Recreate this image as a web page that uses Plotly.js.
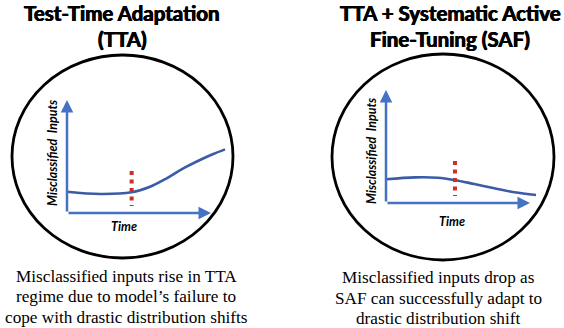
<!DOCTYPE html>
<html>
<head>
<meta charset="utf-8">
<script src="https://cdn.plot.ly/plotly-3.0.1.min.js"></script>
<style>
  html, body { margin: 0; padding: 0; background: #fff; }
  #plot { width: 564px; height: 328px; }
</style>
</head>
<body>
<div id="plot"></div>
<script>
// ─────────────────────────────────────────────────────
// Data (time vs misclassified inputs, arbitrary units 0..10)
// ─────────────────────────────────────────────────────
const ttaTime = [0, 2.08, 4.04, 5.19, 6.23, 7.27, 8.31, 9.14, 9.875];
const ttaMisclassified = [1.88, 1.68, 1.83, 2.32, 3.07, 3.95, 4.69, 5.22, 5.63];

const safTime = [0, 1.83, 3.23, 4.27, 5.52, 6.77, 8.02, 9.375];
const safMisclassified = [2.10, 2.27, 2.24, 2.04, 1.68, 1.30, 0.95, 0.71];

// moment of the distribution shift (red dotted marker) and its vertical span
const ttaShift = 4.04;
const safShift = 4.31;
const shiftSpan = [3.72, 0.62];

// axis arrow tips
const timeTip = 9;
const inputsTip = 10;

const panelTitles = [
    ['Test-Time Adaptation', '(TTA)'],
    ['TTA + Systematic Active', 'Fine-Tuning (SAF)'],
];
const panelCaptions = [
    ['Misclassified inputs rise in TTA', 'regime due to model\u2019s failure to', 'cope with drastic distribution shifts'],
    ['Misclassified inputs drop as', 'SAF can successfully adapt to', 'drastic distribution shift'],
];
const xLabel = 'Time';
const yLabel = 'Misclassified&nbsp; Inputs';

// ─────────────────────────────────────────────────────
// helpers: page pixels -> paper coords
// ─────────────────────────────────────────────────────
const W = 564, H = 328;
const px = v => v / W;
const py = v => 1 - v / H;

const AXIS_BLUE = '#4472C4';
const CURVE_BLUE = '#3A5BA6';
const SHIFT_RED = '#C9302C';

function curveTrace(x, y, ax) {
    return {
        x: x, y: y, xaxis: ax[0], yaxis: ax[1],
        mode: 'lines',
        line: { color: CURVE_BLUE, width: 2.6, shape: 'spline', smoothing: 1 },
        cliponaxis: false,
        hoverinfo: 'skip',
    };
}

function shiftTrace(t, ax) {
    return {
        x: [t, t], y: shiftSpan, xaxis: ax[0], yaxis: ax[1],
        mode: 'lines',
        line: { color: SHIFT_RED, width: 4, dash: '4px,4.5px' },
        cliponaxis: false,
        hoverinfo: 'skip',
    };
}

function axisArrows(xr, yr) {
    const base = {
        xref: xr, yref: yr, axref: xr, ayref: yr,
        text: '', showarrow: true, arrowhead: 2, arrowsize: 1,
        arrowwidth: 2.5, arrowcolor: AXIS_BLUE, standoff: 0, startstandoff: 0,
        ax: 0, ay: 0,
    };
    return [
        Object.assign({}, base, { x: timeTip, y: 0 }),
        Object.assign({}, base, { x: 0, y: inputsTip }),
    ];
}

function textAnn(text, x, y, font, extra) {
    return Object.assign({
        text: text, x: px(x), y: py(y), xref: 'paper', yref: 'paper',
        xanchor: 'center', yanchor: 'middle', showarrow: false,
        font: font,
    }, extra || {});
}

// titles in the reference are heavier than Lato Bold, thicken with a hairline shadow
const titleFont = { family: 'Lato, "Open Sans", sans-serif', size: 20.5, color: '#000', weight: 'bold',
                    shadow: '0.45px 0 0 #000, -0.45px 0 0 #000' };
const labelFont = { family: 'Lato, "Open Sans", sans-serif', size: 12.5, color: '#000', weight: 'bold', style: 'italic' };
const captionFont = { family: '"Liberation Serif", "DejaVu Serif", serif', size: 17.2, color: '#000' };

const traces = [
    curveTrace(ttaTime, ttaMisclassified, ['x', 'y']),
    shiftTrace(ttaShift, ['x', 'y']),
    curveTrace(safTime, safMisclassified, ['x2', 'y2']),
    shiftTrace(safShift, ['x2', 'y2']),
];

const annotations = [
    ...axisArrows('x', 'y'),
    ...axisArrows('x2', 'y2'),

    textAnn(panelTitles[0][0], 122, 13, titleFont),
    textAnn(panelTitles[0][1], 122.5, 39, titleFont),
    textAnn(panelTitles[1][0], 450, 13, titleFont),
    textAnn(panelTitles[1][1], 449.5, 39, titleFont),

    textAnn(xLabel, 124, 227, labelFont),
    textAnn(xLabel, 452, 221, labelFont),
    textAnn(yLabel, 52, 153, labelFont, { textangle: -90 }),
    textAnn(yLabel, 371, 151, labelFont, { textangle: -90 }),

    textAnn(panelCaptions[0][0], 126, 276, captionFont),
    textAnn(panelCaptions[0][1], 126, 296.5, captionFont),
    textAnn(panelCaptions[0][2], 126, 317, captionFont),
    textAnn(panelCaptions[1][0], 438, 277.5, captionFont),
    textAnn(panelCaptions[1][1], 438, 298, captionFont),
    textAnn(panelCaptions[1][2], 438, 318.5, captionFont),
];

const hidden = { visible: false, range: [0, 10], fixedrange: true };

const layout = {
    width: W, height: H,
    margin: { l: 0, r: 0, t: 0, b: 0 },
    paper_bgcolor: '#fff', plot_bgcolor: 'rgba(0,0,0,0)',
    showlegend: false,
    xaxis: Object.assign({}, hidden, { domain: [px(67), px(227)] }),
    yaxis: Object.assign({}, hidden, { domain: [py(213), py(100)] }),
    xaxis2: Object.assign({}, hidden, { domain: [px(386), px(546)], anchor: 'y2' }),
    yaxis2: Object.assign({}, hidden, { domain: [py(203), py(90)], anchor: 'x2' }),
    shapes: [
        { type: 'circle', xref: 'paper', yref: 'paper', x0: px(12), x1: px(233), y0: py(258), y1: py(55),
          line: { color: '#000', width: 2.8 }, layer: 'below' },
        { type: 'circle', xref: 'paper', yref: 'paper', x0: px(332), x1: px(554), y0: py(260), y1: py(54),
          line: { color: '#000', width: 2.8 }, layer: 'below' },
    ],
    annotations: annotations,
};

Plotly.newPlot('plot', traces, layout, { staticPlot: true, displayModeBar: false });
</script>
</body>
</html>
